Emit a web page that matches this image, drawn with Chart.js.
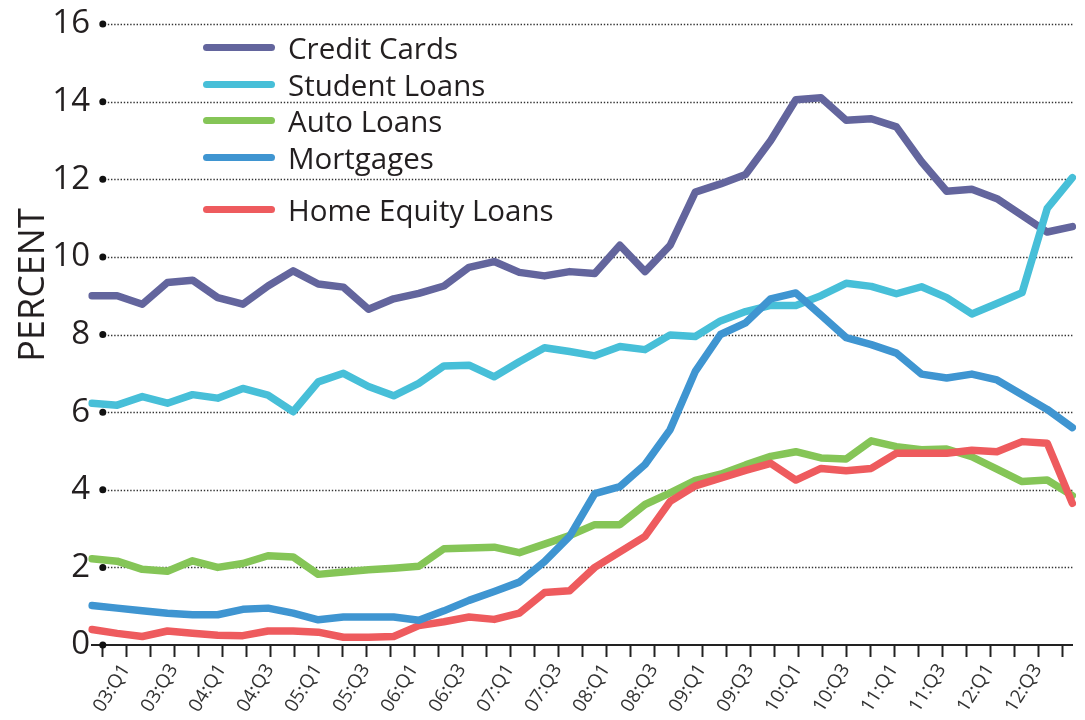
<!DOCTYPE html>
<html>
<head>
<meta charset="utf-8">
<script src="https://cdn.jsdelivr.net/npm/chart.js@4"></script>
<style>
  html, body { margin: 0; padding: 0; background: #fff; overflow: hidden; }
  #wrap { position: relative; width: 1085px; height: 720px; }
  #loans-legend { position: absolute; left: 203px; top: 29px; }
  #loans-legend ul { list-style: none; margin: 0; padding: 0; }
  #loans-legend li { display: flex; align-items: center; height: 36.7px; }
  #loans-legend li:last-child { margin-top: 15px; }
</style>
</head>
<body>
<div id="wrap">
  <canvas id="loans-chart" width="1085" height="720"></canvas>
  <div id="loans-legend"><ul></ul></div>
</div>
<script>
// Quarters shown on the chart
const quarters = [
  '03:Q1', '03:Q2', '03:Q3', '03:Q4', '04:Q1', '04:Q2', '04:Q3', '04:Q4',
  '05:Q1', '05:Q2', '05:Q3', '05:Q4', '06:Q1', '06:Q2', '06:Q3', '06:Q4',
  '07:Q1', '07:Q2', '07:Q3', '07:Q4', '08:Q1', '08:Q2', '08:Q3', '08:Q4',
  '09:Q1', '09:Q2', '09:Q3', '09:Q4', '10:Q1', '10:Q2', '10:Q3', '10:Q4',
  '11:Q1', '11:Q2', '11:Q3', '11:Q4', '12:Q1', '12:Q2', '12:Q3', '12:Q4',
];

// Percent of balance, one value per quarter
const creditCards = [
  9.0, 9.0, 8.78, 9.34, 9.4, 8.95, 8.78, 9.25, 9.64, 9.3,
  9.22, 8.65, 8.92, 9.06, 9.25, 9.73, 9.88, 9.6, 9.51, 9.62,
  9.57, 10.3, 9.62, 10.3, 11.67, 11.88, 12.12, 13.0, 14.05, 14.1,
  13.52, 13.56, 13.35, 12.45, 11.69, 11.74, 11.5, 11.07, 10.64, 10.78,
];
const studentLoans = [
  6.23, 6.18, 6.4, 6.23, 6.45, 6.36, 6.61, 6.44, 6.01, 6.78,
  7.0, 6.66, 6.42, 6.74, 7.19, 7.21, 6.91, 7.3, 7.66, 7.56,
  7.45, 7.69, 7.61, 7.99, 7.95, 8.35, 8.59, 8.75, 8.75, 9.0,
  9.32, 9.24, 9.05, 9.23, 8.95, 8.53, 8.8, 9.08, 11.25, 12.04,
];
const autoLoans = [
  2.22, 2.16, 1.95, 1.9, 2.17, 2.0, 2.1, 2.3, 2.27, 1.82,
  1.88, 1.94, 1.98, 2.03, 2.48, 2.5, 2.52, 2.38, 2.6, 2.82,
  3.1, 3.1, 3.62, 3.92, 4.24, 4.4, 4.64, 4.86, 4.98, 4.82,
  4.79, 5.26, 5.11, 5.03, 5.05, 4.85, 4.53, 4.21, 4.25, 3.85,
];
const mortgages = [
  1.02, 0.95, 0.88, 0.82, 0.78, 0.78, 0.92, 0.95, 0.82, 0.65,
  0.72, 0.72, 0.72, 0.64, 0.88, 1.15, 1.38, 1.62, 2.15, 2.8,
  3.9, 4.08, 4.65, 5.55, 7.05, 8.0, 8.3, 8.92, 9.07, 8.5,
  7.92, 7.74, 7.52, 6.98, 6.88, 6.98, 6.83, 6.45, 6.07, 5.6,
];
const homeEquity = [
  0.4, 0.3, 0.22, 0.36, 0.3, 0.25, 0.24, 0.36, 0.36, 0.33,
  0.2, 0.2, 0.22, 0.5, 0.6, 0.72, 0.66, 0.82, 1.35, 1.4,
  2.0, 2.4, 2.8, 3.7, 4.1, 4.3, 4.5, 4.68, 4.25, 4.55,
  4.49, 4.55, 4.94, 4.94, 4.94, 5.02, 4.98, 5.24, 5.2, 3.65,
];

// Y axis ticks
const percentTicks = [0, 2, 4, 6, 8, 10, 12, 14, 16];

const textColor = '#231f20';
Chart.defaults.font.family = "'Open Sans', sans-serif";
Chart.defaults.color = textColor;

const line = (label, data, color, order) => ({
  label,
  data,
  borderColor: color,
  backgroundColor: color,
  borderWidth: 7.5,
  borderCapStyle: 'round',
  borderJoinStyle: 'round',
  pointRadius: 0,
  tension: 0,
  order,
});

// Dotted gridlines, the dots on the value axis and the axis title
const dottedGrid = {
  id: 'dottedGrid',
  beforeDatasetsDraw(c) {
    const { ctx, chartArea } = c;
    const yAxis = c.scales.y;
    const x0 = c.scales.xq.getPixelForValue(0);
    ctx.save();
    ctx.strokeStyle = '#333';
    ctx.lineWidth = 1.4;
    ctx.setLineDash([1.4, 1.8]);
    yAxis.ticks.forEach((t, i) => {
      if (t.value === 0) return;
      const y = Math.round(yAxis.getPixelForTick(i)) + 0.5;
      ctx.beginPath();
      ctx.moveTo(x0 + 5, y);
      ctx.lineTo(chartArea.right, y);
      ctx.stroke();
    });
    ctx.setLineDash([]);
    ctx.fillStyle = '#111';
    yAxis.ticks.forEach((t, i) => {
      ctx.beginPath();
      ctx.arc(x0, yAxis.getPixelForTick(i), 3.5, 0, Math.PI * 2);
      ctx.fill();
    });
    ctx.fillStyle = textColor;
    ctx.font = "36px 'Open Sans', sans-serif";
    ctx.textAlign = 'center';
    ctx.textBaseline = 'middle';
    ctx.translate(34, 285);
    ctx.rotate(-Math.PI / 2);
    ctx.fillText('PERCENT', 0, 0);
    ctx.restore();
  },
};

const htmlLegend = {
  id: 'htmlLegend',
  afterUpdate(c, args, options) {
    const ul = document.getElementById(options.containerID).querySelector('ul');
    while (ul.firstChild) ul.firstChild.remove();
    c.data.datasets.forEach((ds) => {
      const li = document.createElement('li');
      const box = document.createElement('span');
      box.style.display = 'block';
      box.style.width = '72px';
      box.style.height = '7px';
      box.style.borderRadius = '4px';
      box.style.marginRight = '13px';
      box.style.background = ds.borderColor;
      const label = document.createElement('span');
      label.style.font = "29.5px 'Open Sans', sans-serif";
      label.style.color = textColor;
      label.textContent = ds.label;
      li.appendChild(box);
      li.appendChild(label);
      ul.appendChild(li);
    });
  },
};

const ctx = document.getElementById('loans-chart');
// eslint-disable-next-line no-unused-vars
const chart = new Chart(ctx, {
  type: 'line',
  data: {
    labels: quarters,
    datasets: [
      line('Credit Cards', creditCards, '#63659d', 5),
      line('Student Loans', studentLoans, '#47bfd8', 4),
      line('Auto Loans', autoLoans, '#85c557', 3),
      line('Mortgages', mortgages, '#3f95d1', 1),
      line('Home Equity Loans', homeEquity, '#ee5b5e', 2),
    ],
  },
  options: {
    responsive: false,
    animation: false,
    layout: {
      padding: { top: 24, right: 0, bottom: 0, left: 0 },
    },
    scales: {
      // Category axis the series are drawn on
      x: {
        type: 'category',
        display: false,
        offset: false,
      },
      // Quarter tick marks and labels
      xq: {
        type: 'linear',
        position: 'bottom',
        min: -0.45,
        max: 40.41,
        afterBuildTicks: (scale) => {
          scale.ticks = [...quarters, ''].map((q, i) => ({ value: i }));
        },
        afterFit: (scale) => { scale.height = 75; },
        border: { display: true, color: '#222', width: 2 },
        grid: {
          drawOnChartArea: false,
          drawTicks: true,
          tickLength: 12,
          tickWidth: 2,
          tickColor: '#222',
        },
        ticks: {
          autoSkip: false,
          minRotation: 58,
          maxRotation: 58,
          labelOffset: 23,
          padding: 3,
          color: '#333',
          font: { size: 19 },
          callback: (v) => (v % 2 === 0 && v < quarters.length ? quarters[v] : ''),
        },
      },
      y: {
        min: 0,
        max: 16,
        afterBuildTicks: (scale) => {
          scale.ticks = percentTicks.map((v) => ({ value: v }));
        },
        afterFit: (scale) => { scale.width = 92; },
        border: { display: false },
        grid: { display: false, drawTicks: false },
        ticks: {
          padding: 2,
          color: textColor,
          font: { size: 33 },
        },
      },
    },
    plugins: {
      legend: { display: false },
      tooltip: { enabled: false },
      htmlLegend: { containerID: 'loans-legend' },
    },
  },
  plugins: [dottedGrid, htmlLegend],
});
</script>
</body>
</html>
